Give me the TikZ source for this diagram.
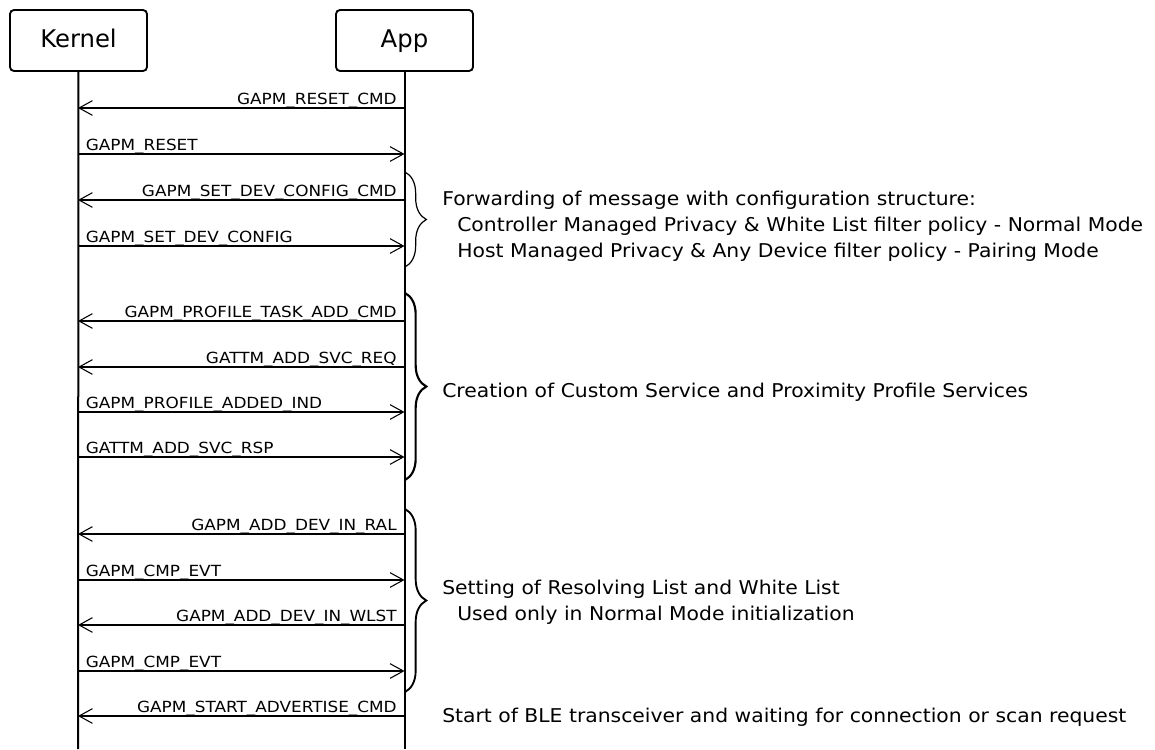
\documentclass[tikz,border=0pt]{standalone}
\usepackage{fontspec}
\setmainfont{DejaVu Sans}
\newfontfamily\lblfont[FakeStretch=1.1]{DejaVu Sans}
\newfontfamily\notefont[FakeStretch=1.07]{DejaVu Sans}
\usetikzlibrary{arrows.meta,decorations.pathreplacing}

\begin{document}
\begin{tikzpicture}[
    x=0.75pt, y=-0.75pt,
    actor/.style={rectangle, draw, rounded corners=3pt, line width=1.4pt, minimum width=102.75pt, minimum height=45.75pt, text height=14pt, text depth=2.8pt, font=\fontsize{18.25pt}{20pt}\selectfont},
    lifeline/.style={line width=1.5pt},
    msg/.style={->, line width=0.8pt},
    lblL/.style={pos=0, anchor=base east, inner sep=0pt, xshift=-5.5pt, yshift=3pt, font=\lblfont\fontsize{11.5pt}{13pt}\selectfont},
    lblR/.style={pos=0, anchor=base west, inner sep=0pt, xshift=5.5pt, yshift=3pt, font=\lblfont\fontsize{11.5pt}{13pt}\selectfont},
    note/.style={anchor=base west, inner sep=0pt, font=\notefont\fontsize{14.25pt}{17pt}\selectfont},
    klammer/.style={decorate, decoration={brace, amplitude=16pt}},
    >={Straight Barb[length=10pt,width=11pt]}
]
\useasboundingbox (0,0) rectangle (1155,749);

% Teilnehmer
\node[actor] at (78.5,40.5) (kernel) {Kernel};
\node[actor] at (404.5,40.5) (app) {App};

% Lebenslinien
\coordinate (kEnde) at (78,749);
\coordinate (aEnde) at (404.5,749);
\draw[lifeline] (kernel) -- (kEnde);
\draw[lifeline] (app) -- (aEnde);

% Endpunkte der Nachrichten
\coordinate (k1) at (78,108);  \coordinate (a1) at (404.5,108);
\coordinate (k2) at (78,154);  \coordinate (a2) at (404.5,154);
\coordinate (k3) at (78,200);  \coordinate (a3) at (404.5,200);
\coordinate (k4) at (78,246);  \coordinate (a4) at (404.5,246);
\coordinate (k5) at (78,321);  \coordinate (a5) at (404.5,321);
\coordinate (k6) at (78,367);  \coordinate (a6) at (404.5,367);
\coordinate (k7) at (78,412);  \coordinate (a7) at (404.5,412);
\coordinate (k8) at (78,457);  \coordinate (a8) at (404.5,457);
\coordinate (k9) at (78,534);  \coordinate (a9) at (404.5,534);
\coordinate (k10) at (78,580); \coordinate (a10) at (404.5,580);
\coordinate (k11) at (78,625); \coordinate (a11) at (404.5,625);
\coordinate (k12) at (78,671); \coordinate (a12) at (404.5,671);
\coordinate (k13) at (78,716); \coordinate (a13) at (404.5,716);

% Reset
\draw[msg] (a1) -- node[lblL] {GAPM\_RESET\_CMD} (k1);
\draw[msg] (k2) -- node[lblR] {GAPM\_RESET} (a2);

% Konfiguration
\draw[msg] (a3) -- node[lblL] {GAPM\_SET\_DEV\_CONFIG\_CMD} (k3);
\draw[msg] (k4) -- node[lblR] {GAPM\_SET\_DEV\_CONFIG} (a4);

% Profile und Services
\draw[msg] (a5) -- node[lblL] {GAPM\_PROFILE\_TASK\_ADD\_CMD} (k5);
\draw[msg] (a6) -- node[lblL] {GATTM\_ADD\_SVC\_REQ} (k6);
\draw[msg] (k7) -- node[lblR] {GAPM\_PROFILE\_ADDED\_IND} (a7);
\draw[msg] (k8) -- node[lblR] {GATTM\_ADD\_SVC\_RSP} (a8);

% Resolving List und White List
\draw[msg] (a9) -- node[lblL] {GAPM\_ADD\_DEV\_IN\_RAL} (k9);
\draw[msg] (k10) -- node[lblR] {GAPM\_CMP\_EVT} (a10);
\draw[msg] (a11) -- node[lblL] {GAPM\_ADD\_DEV\_IN\_WLST} (k11);
\draw[msg] (k12) -- node[lblR] {GAPM\_CMP\_EVT} (a12);

% Advertising
\draw[msg] (a13) -- node[lblL] {GAPM\_START\_ADVERTISE\_CMD} (k13);

% Klammern
\coordinate (ko1) at (405,172); \coordinate (ku1) at (405,267);
\coordinate (ko2) at (405,293); \coordinate (ku2) at (405,480);
\coordinate (ko3) at (405,509); \coordinate (ku3) at (405,692);
\draw[klammer, line width=0.9pt] (ko1) -- (ku1);
\draw[klammer, line width=1.6pt] (ko2) -- (ku2);
\draw[klammer, line width=1.4pt] (ko3) -- (ku3);

% Kommentare
\node[note] at (442,205) (note1) {Forwarding of message with configuration structure:};
\node[note] at (457,231) (note2) {Controller Managed Privacy \& White List filter policy - Normal Mode};
\node[note] at (457,257) (note3) {Host Managed Privacy \& Any Device filter policy - Pairing Mode};
\node[note] at (442,397) (note4) {Creation of Custom Service and Proximity Profile Services};
\node[note] at (442,594) (note5) {Setting of Resolving List and White List};
\node[note] at (457,620) (note6) {Used only in Normal Mode initialization};
\node[note] at (442,722) (note7) {Start of BLE transceiver and waiting for connection or scan request};
\end{tikzpicture}
\end{document}
